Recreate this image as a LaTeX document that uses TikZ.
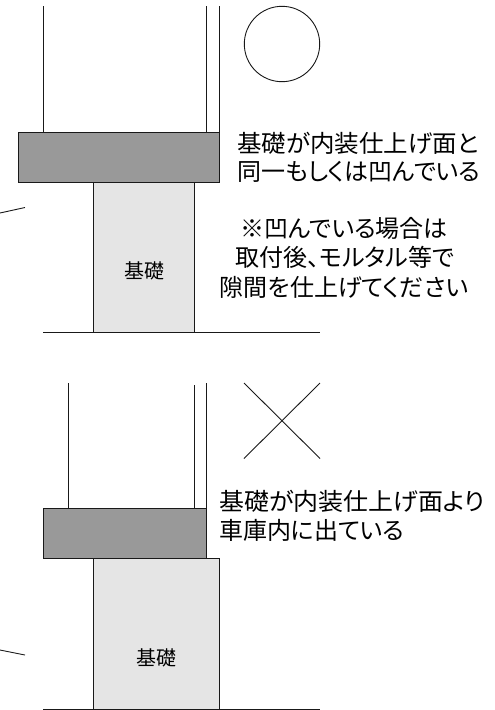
\documentclass[tikz,border=0pt]{standalone}
\usepackage{fontspec}
\newfontfamily\jp[RawFeature=+palt]{Noto Sans CJK JP}
\tikzset{
  ln/.style={line width=0.9pt,draw=black!90},
  slab/.style={ln,fill=black!40},
  base/.style={ln,fill=black!10},
  lbl/.style={inner sep=0pt,font=\jp\fontsize{24pt}{29pt}\selectfont,text=black},
  small/.style={inner sep=0pt,font=\jp\fontsize{20pt}{24pt}\selectfont,text=black}
}
\begin{document}
\begin{tikzpicture}[x=1pt,y=-1pt]
\useasboundingbox (0,0) rectangle (495,710);
% upper detail
\draw[ln] (43.5,6) -- (43.5,132);
\draw[ln] (206.5,6) -- (206.5,132);
\draw[ln] (219,6) -- (219,132);
\draw[base] (93.5,182) rectangle (194,332);
\draw[slab] (18.5,132) rectangle (219,182);
\draw[ln] (43,332) -- (320,332);
\draw[ln] (282,44) circle (37.7);
\draw[ln] (0,213) -- (25,207.5);
\node[small] (b1) at (144,271) {基礎};
\node[lbl,anchor=west,xscale=1.02] (t1) at (237,143) {基礎が内装仕上げ面と};
\node[lbl,anchor=west] (t2) at (237,172) {同一もしくは凹んでいる};
\node[lbl] (t3) at (344,228) {※凹んでいる場合は};
\node[lbl] (t4) at (345,257) {取付後、モルタル等で};
\node[lbl] (t5) at (344,287) {隙間を仕上げてください};
% lower detail
\draw[ln] (68.5,383) -- (68.5,508);
\draw[ln] (194,385) -- (194,508);
\draw[ln] (206.5,383) -- (206.5,508);
\draw[base] (93.5,558.5) rectangle (219,709);
\draw[slab] (43.5,508.5) rectangle (206.5,558.5);
\draw[ln] (43,709) -- (320,709);
\draw[ln] (244,383) -- (320,458.5);
\draw[ln] (320,383) -- (244,458.5);
\draw[ln] (0,650) -- (25,655);
\node[small] (b2) at (156,658) {基礎};
\node[lbl,anchor=west,xscale=1.04] (t6) at (219,501) {基礎が内装仕上げ面より};
\node[lbl,anchor=west] (t7) at (219,530) {車庫内に出ている};
\end{tikzpicture}
\end{document}
